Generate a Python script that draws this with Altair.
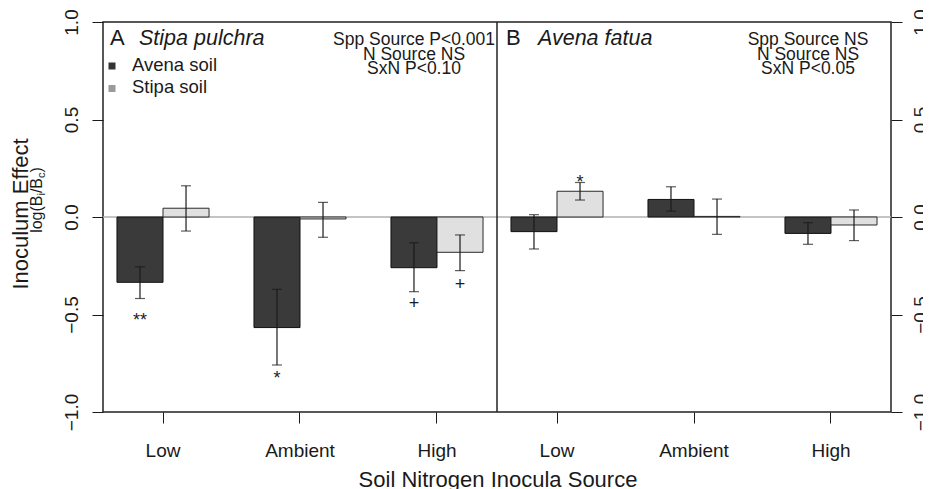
import altair as alt
import pandas as pd

# ---------------- data ----------------
nitrogen = ["Low", "Ambient", "High"]
soils = ["Avena soil", "Stipa soil"]
bar_fill = ["#3a3a3a", "#e0e0e0"]
bar_stroke = ["#111111", "#2a2a2a"]
legend_fill = ["#333333", "#9a9a9a"]

panel_ids = ["A", "B"]
panel_species = ["Stipa pulchra", "Avena fatua"]
panel_stats = [["Spp Source P<0.001", "N Source NS", "SxN P<0.10"],
               ["Spp Source NS", "N Source NS", "SxN P<0.05"]]

# Panel A  (Stipa pulchra)
a_avena_mean = [-0.335, -0.567, -0.260]
a_avena_lo = [-0.418, -0.759, -0.383]
a_avena_hi = [-0.255, -0.371, -0.132]
a_avena_sig = ["**", "*", "+"]
a_avena_sig_y = [-0.533, -0.833, -0.446]
a_stipa_mean = [0.045, -0.010, -0.181]
a_stipa_lo = [-0.072, -0.104, -0.275]
a_stipa_hi = [0.160, 0.075, -0.092]
a_stipa_sig = ["", "", "+"]
a_stipa_sig_y = [0.0, 0.0, -0.349]

# Panel B  (Avena fatua)
b_avena_mean = [-0.075, 0.090, -0.084]
b_avena_lo = [-0.164, 0.030, -0.140]
b_avena_hi = [0.012, 0.155, -0.029]
b_avena_sig = ["", "", ""]
b_avena_sig_y = [0.0, 0.0, 0.0]
b_stipa_mean = [0.132, 0.003, -0.041]
b_stipa_lo = [0.087, -0.089, -0.121]
b_stipa_hi = [0.177, 0.092, 0.036]
b_stipa_sig = ["*", "", ""]
b_stipa_sig_y = [0.172, 0.0, 0.0]

y_ticks = [-1.0, -0.5, 0.0, 0.5, 1.0]
x_title = "Soil Nitrogen Inocula Source"
y_title = "Inoculum Effect"
y_sub_parts = ["log(B", "i", "/B", "c", ")"]

rows = []
def add(panel, soil, means, los, his, sigs, sys_):
    for n, m, lo, hi, s, sy in zip(nitrogen, means, los, his, sigs, sys_):
        rows.append(dict(panel=panel, nitrogen=n, soil=soil, mean=m, lo=lo, hi=hi, sig=s, sig_y=sy))

add("A", soils[0], a_avena_mean, a_avena_lo, a_avena_hi, a_avena_sig, a_avena_sig_y)
add("A", soils[1], a_stipa_mean, a_stipa_lo, a_stipa_hi, a_stipa_sig, a_stipa_sig_y)
add("B", soils[0], b_avena_mean, b_avena_lo, b_avena_hi, b_avena_sig, b_avena_sig_y)
add("B", soils[1], b_stipa_mean, b_stipa_lo, b_stipa_hi, b_stipa_sig, b_stipa_sig_y)
df = pd.DataFrame(rows)

one = pd.DataFrame({"k": [0]})
INK = "#1a1a1a"
PW, H = 394, 390          # one panel's width, plot height
TICK_FS = 19


def txt(s, x, y, size, align="left", baseline="alphabetic", style="normal", angle=None, color=INK):
    kw = dict(text=s, fontSize=size, align=align, baseline=baseline, fontStyle=style, color=color)
    if angle is not None:
        kw["angle"] = angle
    return alt.Chart(one).mark_text(**kw).encode(x=alt.value(x), y=alt.value(y))


def panel(i):
    pid = panel_ids[i]
    x0 = i * PW
    d = df[df.panel == pid]
    x = alt.X("nitrogen:N", sort=nitrogen,
              scale=alt.Scale(domain=nitrogen, range=[x0, x0 + PW],
                              paddingInner=0.328, paddingOuter=0.102),
              axis=alt.Axis(orient="bottom", title=None, labelAngle=0, tickSize=11,
                            labelPadding=18, labelFontSize=TICK_FS, domain=False,
                            tickColor=INK, labelColor=INK, tickWidth=1, grid=False))
    xo = alt.XOffset("soil:N", sort=soils,
                     scale=alt.Scale(domain=soils, paddingInner=0, paddingOuter=0))
    ysc = alt.Scale(domain=[-1, 1], nice=False, zero=False)
    if i == 0:
        yax = alt.Axis(orient="left", values=y_ticks, format=".1f", title=None, labelAngle=270,
                       labelAlign="center", labelBaseline="alphabetic", labelPadding=15,
                       tickSize=11, labelFontSize=TICK_FS, domain=False, grid=False,
                       labelFlush=False, labelOverlap=False, tickColor=INK, labelColor=INK)
    else:
        yax = alt.Axis(orient="right", values=y_ticks, format=".1f", title=None, labelAngle=270,
                       labelAlign="center", labelBaseline="top", labelPadding=9,
                       tickSize=11, labelFontSize=TICK_FS, domain=False, grid=False,
                       labelFlush=False, labelOverlap=False, tickColor=INK, labelColor=INK,
                       labelOpacity=0.99)

    bars = alt.Chart(d).mark_bar(strokeWidth=1).encode(
        x=x, xOffset=xo,
        y=alt.Y("mean:Q", scale=ysc, axis=yax),
        color=alt.Color("soil:N", scale=alt.Scale(domain=soils, range=bar_fill), legend=None),
        stroke=alt.Stroke("soil:N", scale=alt.Scale(domain=soils, range=bar_stroke), legend=None),
    )
    err = alt.Chart(d).mark_rule(color=INK, strokeWidth=1.2).encode(
        x=x, xOffset=xo, y=alt.Y("lo:Q", scale=ysc, axis=yax), y2="hi:Q")
    cap_lo = alt.Chart(d).mark_tick(color=INK, size=10, thickness=1.2).encode(
        x=x, xOffset=xo, y=alt.Y("lo:Q", scale=ysc, axis=yax))
    cap_hi = alt.Chart(d).mark_tick(color=INK, size=10, thickness=1.2).encode(
        x=x, xOffset=xo, y=alt.Y("hi:Q", scale=ysc, axis=yax))
    sig = alt.Chart(d).transform_filter("datum.sig != ''").mark_text(
        fontSize=18, baseline="middle", color=INK, opacity=0.99).encode(
        x=x, xOffset=xo, y=alt.Y("sig_y:Q", scale=ysc, axis=yax), text="sig:N")

    layers = []
    if i == 0:
        zero = alt.Chart(one).transform_calculate(z="0").mark_rule(
            color="#b0b0b0", strokeWidth=1.5).encode(y=alt.Y("z:Q", scale=ysc, axis=yax))
        layers.append(zero)
    layers += [bars, err, cap_lo, cap_hi, sig]
    # panel header
    layers.append(txt(pid, x0 + (7 if i == 0 else 9), 23, 22))
    layers.append(txt(panel_species[i], x0 + (36 if i == 0 else 41), 23, 21.5, style="italic"))
    for k, line in enumerate(panel_stats[i]):
        layers.append(txt(line, x0 + 311, 23 + 14.5 * k, 17.5, align="center"))
    return layers


left_layers = panel(0)
# legend (panel A)
for k, (lab, col) in enumerate(zip(soils, legend_fill)):
    left_layers.append(alt.Chart(one).mark_square(size=49, opacity=1, color=col).encode(
        x=alt.value(9), y=alt.value(44 + 22.5 * k)))
    left_layers.append(txt(lab, 29, 49 + 22 * k, 18.5))
# y title
left_layers.append(txt(y_title, -75, 192, 22, align="center", angle=270))
sub_sizes = [16, 11, 16, 11, 16]
sub_widths = [0.2334 * 16, 0.0222 * 11, 0.0945 * 16, 0.05 * 11, 0.0333 * 16]
ypos = 200 - 22 + sum(w * 10 for w in sub_widths) / 2
for part, fs, w10 in zip(y_sub_parts, sub_sizes, sub_widths):
    xx = -61 if fs == 16 else -58
    left_layers.append(txt(part, xx, ypos, fs, align="left", angle=270))
    ypos -= w10 * 10
# divider between the panels and x title
left_layers.append(alt.Chart(one).mark_rule(color="#222222", strokeWidth=1.5).encode(
    x=alt.value(PW), y=alt.value(0), y2=alt.value(H)))
left_layers.append(txt(x_title, PW + 1, 465, 22, align="center"))

right_layers = panel(1)

panel_a = alt.layer(*left_layers)
panel_b = alt.layer(*right_layers)

chart = alt.layer(panel_a, panel_b).resolve_scale(
    x="independent", y="independent"
).properties(
    width=2 * PW, height=H,
    autosize=alt.AutoSizeParams(type="none"),
    padding={"left": 95, "top": 14, "right": 32, "bottom": 77},
).configure(font="Liberation Sans").configure_view(stroke="#222222", strokeWidth=1.5)

chart.save("out.html", embed_options={"renderer": "svg", "actions": False})
